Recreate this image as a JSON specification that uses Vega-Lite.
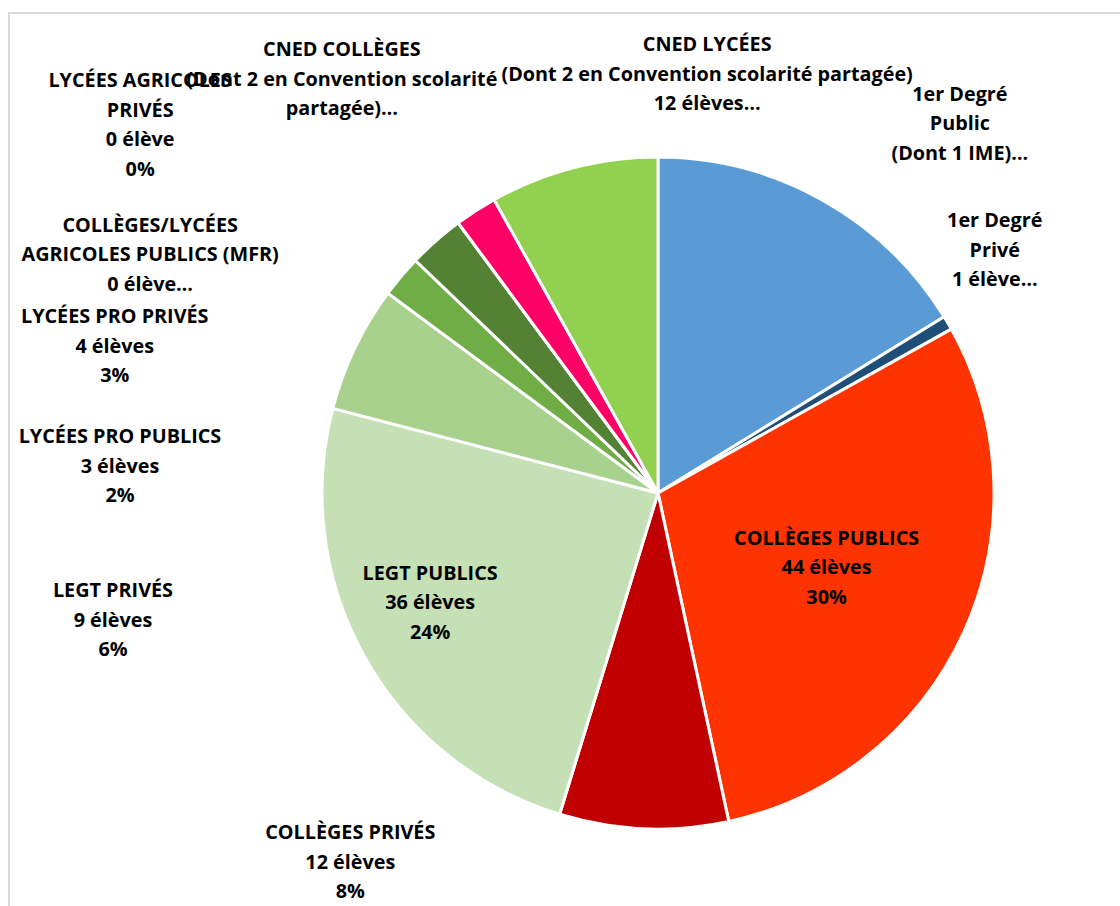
{
  "$schema": "https://vega.github.io/schema/vega-lite/v6.json",
  "autosize": "none",
  "width": 1298,
  "height": 960,
  "padding": {"left": 9, "top": 13, "right": -187, "bottom": -67},
  "background": "white",
  "view": {"stroke": "#d9d9d9", "strokeWidth": 2},
  "config": {"text": {"font": "Open Sans", "fontWeight": "bold", "fontSize": 19.8, "lineHeight": 29.5, "lineBreak": "\n", "align": "center", "baseline": "middle", "color": "black"}},
  "data": {"values": [
    {"i": 1, "cat": "1er Degré Public", "n": 24, "label": "1er Degré\nPublic\n(Dont 1 IME)…"},
    {"i": 2, "cat": "1er Degré Privé", "n": 1, "label": "1er Degré\nPrivé\n1 élève…"},
    {"i": 3, "cat": "COLLÈGES PUBLICS", "n": 44, "label": "COLLÈGES PUBLICS\n44 élèves\n30%"},
    {"i": 4, "cat": "COLLÈGES PRIVÉS", "n": 12, "label": "COLLÈGES PRIVÉS\n12 élèves\n8%"},
    {"i": 5, "cat": "LEGT PUBLICS", "n": 36, "label": "LEGT PUBLICS\n36 élèves\n24%"},
    {"i": 6, "cat": "LEGT PRIVÉS", "n": 9, "label": "LEGT PRIVÉS\n9 élèves\n6%"},
    {"i": 7, "cat": "LYCÉES PRO PUBLICS", "n": 3, "label": "LYCÉES PRO PUBLICS\n3 élèves\n2%"},
    {"i": 8, "cat": "LYCÉES PRO PRIVÉS", "n": 4, "label": "LYCÉES PRO PRIVÉS\n4 élèves\n3%"},
    {"i": 9, "cat": "COLLÈGES/LYCÉES AGRICOLES PUBLICS (MFR)", "n": 0, "label": "COLLÈGES/LYCÉES\nAGRICOLES PUBLICS (MFR)\n0 élève…"},
    {"i": 10, "cat": "LYCÉES AGRICOLES PRIVÉS", "n": 0, "label": "LYCÉES AGRICOLES\nPRIVÉS\n0 élève\n0%"},
    {"i": 11, "cat": "CNED COLLÈGES", "n": 3, "label": "CNED COLLÈGES\n(Dont 2 en Convention scolarité\npartagée)…"},
    {"i": 12, "cat": "CNED LYCÉES", "n": 12, "label": "CNED LYCÉES\n(Dont 2 en Convention scolarité partagée)\n12 élèves…"}
  ]},
  "encoding": {
    "theta": {"field": "n", "type": "quantitative", "stack": true},
    "order": {"field": "i", "type": "quantitative"},
    "detail": {"field": "cat", "type": "nominal"}
  },
  "layer": [
    {
      "mark": {"type": "arc", "outerRadius": 336, "stroke": "white", "strokeWidth": 3},
      "encoding": {
        "color": {"field": "cat", "type": "nominal", "legend": null,
          "scale": {
            "domain": ["1er Degré Public", "1er Degré Privé", "COLLÈGES PUBLICS", "COLLÈGES PRIVÉS", "LEGT PUBLICS", "LEGT PRIVÉS", "LYCÉES PRO PUBLICS", "LYCÉES PRO PRIVÉS", "COLLÈGES/LYCÉES AGRICOLES PUBLICS (MFR)", "LYCÉES AGRICOLES PRIVÉS", "CNED COLLÈGES", "CNED LYCÉES"],
            "range": ["#5B9BD5", "#1F4E79", "#FF3300", "#C00000", "#C5E0B4", "#A9D18E", "#70AD47", "#548235", "#385723", "#A5A5A5", "#FF0066", "#92D050"]
          }}
      }
    },
    {"mark": {"type": "text", "radius": 420, "dx": 97, "dy": -31.5},
     "encoding": {"text": {"condition": {"test": "datum.i === 1", "field": "label"}, "value": ""}}},
    {"mark": {"type": "text", "radius": 380, "dx": 9, "dy": -79.5},
     "encoding": {"text": {"condition": {"test": "datum.i === 2", "field": "label"}, "value": ""}}},
    {"mark": {"type": "text", "radius": 185, "dx": 0, "dy": -30.5},
     "encoding": {"text": {"condition": {"test": "datum.i === 3", "field": "label"}, "value": ""}}},
    {"mark": {"type": "text", "radius": 370, "dx": -292, "dy": -29.5},
     "encoding": {"text": {"condition": {"test": "datum.i === 4", "field": "label"}, "value": ""}}},
    {"mark": {"type": "text", "radius": 253, "dx": -7, "dy": -42.5},
     "encoding": {"text": {"condition": {"test": "datum.i === 5", "field": "label"}, "value": ""}}},
    {"mark": {"type": "text", "radius": 460, "dx": -130, "dy": 296.5},
     "encoding": {"text": {"condition": {"test": "datum.i === 6", "field": "label"}, "value": ""}}},
    {"mark": {"type": "text", "radius": 450, "dx": -194, "dy": 234.5},
     "encoding": {"text": {"condition": {"test": "datum.i === 7", "field": "label"}, "value": ""}}},
    {"mark": {"type": "text", "radius": 400, "dx": -279, "dy": 124.5},
     "encoding": {"text": {"condition": {"test": "datum.i === 8", "field": "label"}, "value": ""}}},
    {"mark": {"type": "text", "radius": 400, "dx": -270, "dy": 54.5},
     "encoding": {"text": {"condition": {"test": "datum.i === 9", "field": "label"}, "value": ""}}},
    {"mark": {"type": "text", "radius": 400, "dx": -280, "dy": -90},
     "encoding": {"text": {"condition": {"test": "datum.i === 10", "field": "label"}, "value": ""}}},
    {"mark": {"type": "text", "radius": 500, "dx": -45, "dy": -22.5},
     "encoding": {"text": {"condition": {"test": "datum.i === 11", "field": "label"}, "value": ""}}},
    {"mark": {"type": "text", "radius": 420, "dx": 155, "dy": -41.5},
     "encoding": {"text": {"condition": {"test": "datum.i === 12", "field": "label"}, "value": ""}}}
  ]
}
